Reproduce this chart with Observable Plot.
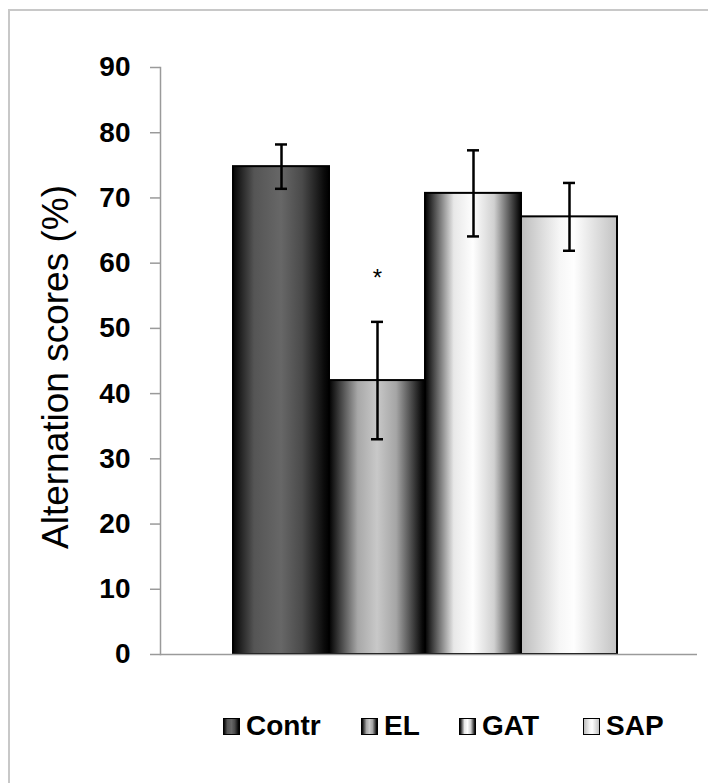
<!DOCTYPE html>
<html>
<head>
<meta charset="utf-8">
<script src="https://cdn.jsdelivr.net/npm/d3@7"></script>
<script src="https://cdn.jsdelivr.net/npm/@observablehq/plot@0.6"></script>
<style>
  html, body { margin: 0; padding: 0; background: #fff; overflow: hidden; }
  #page { position: relative; width: 708px; height: 783px; font-family: Arial, "Liberation Sans", sans-serif; }
  #border { position: absolute; left: 8px; top: 9px; width: 800px; height: 900px; border: 2px solid #c8c8c8; box-sizing: border-box; }
  #chart { position: absolute; left: 0; top: 0; }
  #legend { position: absolute; left: 0; top: 710px; width: 708px; height: 32px; }
  .item { position: absolute; top: 0; display: flex; align-items: center; font-weight: bold; font-size: 28px; color: #000; }
  .sw { width: 15px; height: 15px; border: 1.5px solid #000; margin-right: 6px; }
</style>
</head>
<body>
<div id="page">
  <div id="border"></div>
  <div id="chart"></div>
  <div id="legend"></div>
</div>
<script>
const groups = ["Contr", "EL", "GAT", "SAP"];
const values = [74.8, 42.0, 70.7, 67.1];
const errors = [3.4, 9.0, 6.6, 5.2];
const yTicks = [0, 10, 20, 30, 40, 50, 60, 70, 80, 90];
const yLabel = "Alternation scores (%)";
const starGroup = "EL";
const starValue = 57.7;

const gradients = {
  Contr: [[0, "#050505"], [0.22, "#555"], [0.5, "#676767"], [0.72, "#4a4a4a"], [0.95, "#0a0a0a"], [1, "#000"]],
  EL:    [[0, "#000"], [0.3, "#a8a8a8"], [0.5, "#c8c8c8"], [0.7, "#a5a5a5"], [0.97, "#0a0a0a"], [1, "#000"]],
  GAT:   [[0, "#000"], [0.3, "#e8e8e8"], [0.5, "#fefefe"], [0.72, "#d0d0d0"], [0.97, "#151515"], [1, "#000"]],
  SAP:   [[0, "#bdbdbd"], [0.4, "#f6f6f6"], [0.55, "#fefefe"], [1, "#c2c2c2"]]
};

const data = groups.map((g, i) => ({group: g, value: values[i], err: errors[i], grad: `url(#grad-${g})`}));

const chart = Plot.plot({
  width: 708,
  height: 700,
  marginLeft: 160,
  marginTop: 67,
  marginBottom: 46,
  marginRight: 11,
  style: {fontFamily: "Arial, 'Liberation Sans', sans-serif", background: "transparent"},
  x: {domain: groups, range: [232, 618], padding: 0, axis: null},
  y: {domain: [0, 90], range: [654, 67]},
  color: {type: "identity"},
  marks: [
    Plot.barY(data, {x: "group", y: "value", fill: "grad", stroke: "#000", strokeWidth: 2}),
    Plot.ruleY([0], {stroke: "#9a9a9a", strokeWidth: 1.5}),
    Plot.frame({anchor: "left", stroke: "#9a9a9a", strokeWidth: 1.5}),
    Plot.axisY({ticks: yTicks, tickSize: 10, tickPadding: 20, stroke: "#9a9a9a", strokeWidth: 1.5, fontSize: 28, fontWeight: "bold", fill: "#000", label: null, tickFormat: d => String(d)}),
    Plot.ruleX(data, {x: "group", y1: d => d.value - d.err, y2: d => d.value + d.err, stroke: "#000", strokeWidth: 2.5}),
    Plot.tickY(data, {x: "group", y: d => d.value + d.err, stroke: "#000", strokeWidth: 2.5, insetLeft: 42, insetRight: 42}),
    Plot.tickY(data, {x: "group", y: d => d.value - d.err, stroke: "#000", strokeWidth: 2.5, insetLeft: 42, insetRight: 42}),
    Plot.text([starValue], {x: () => starGroup, y: d => d, text: () => "*", fontSize: 24, fill: "#000"}),
    Plot.text([yLabel], {frameAnchor: "left", textAnchor: "middle", rotate: -90, dx: -104, dy: 6, fontSize: 37, fill: "#000", text: d => d})
  ]
});

// gradient defs
const svg = d3.select(chart.tagName.toLowerCase() === "svg" ? chart : chart.querySelector("svg"));
const defs = svg.insert("defs", ":first-child");
for (const g of groups) {
  const lg = defs.append("linearGradient").attr("id", `grad-${g}`).attr("x1", "0").attr("x2", "1").attr("y1", "0").attr("y2", "0");
  for (const [o, c] of gradients[g]) lg.append("stop").attr("offset", o).attr("stop-color", c);
}
document.getElementById("chart").appendChild(chart);

// legend
const legendLefts = [223, 361, 459, 583];
const legend = document.getElementById("legend");
groups.forEach((g, i) => {
  const item = document.createElement("div");
  item.className = "item";
  item.style.left = legendLefts[i] + "px";
  const sw = document.createElement("div");
  sw.className = "sw";
  sw.style.background = "linear-gradient(to right, " + gradients[g].map(([o, c]) => `${c} ${o * 100}%`).join(", ") + ")";
  const t = document.createElement("span");
  t.textContent = g;
  item.appendChild(sw);
  item.appendChild(t);
  legend.appendChild(item);
});
</script>
</body>
</html>
